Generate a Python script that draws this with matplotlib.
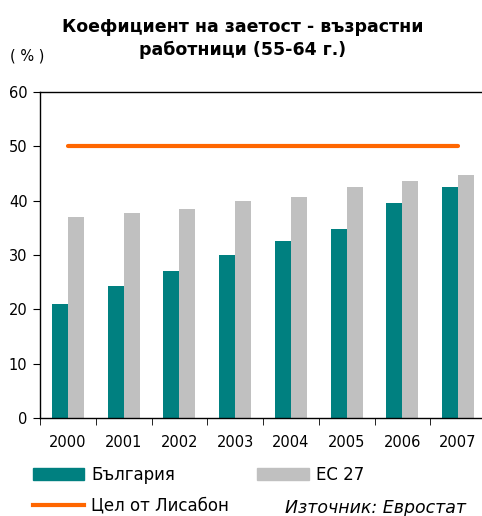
import numpy as np
import matplotlib.pyplot as plt
from matplotlib.patches import Patch
from matplotlib.lines import Line2D

plt.rcParams["font.family"] = ["DejaVu Sans"]
plt.rcParams["font.size"] = 10.5

years = ["2000", "2001", "2002", "2003", "2004", "2005", "2006", "2007"]
bulgaria = [21.0, 24.3, 27.1, 30.0, 32.6, 34.8, 39.6, 42.5]
eu27 = [37.0, 37.7, 38.5, 40.0, 40.7, 42.5, 43.6, 44.7]
lisbon = [50, 50, 50, 50, 50, 50, 50, 50]

teal = "#008080"
grey = "#C0C0C0"
orange = "#FF6600"

fig = plt.figure(figsize=(4.82, 5.16), dpi=100)
ax = fig.add_axes([40 / 482, 1 - 418 / 516, 446 / 482, 326 / 516])

x = np.arange(len(years))
w = 0.286
ax.bar(x - w / 2, bulgaria, width=w, color=teal, label="България")
ax.bar(x + w / 2, eu27, width=w, color=grey, label="ЕС 27")
ax.plot(x, lisbon, color=orange, lw=3.0, solid_capstyle="round", label="Цел от Лисабон")

ax.set_xlim(-0.5, len(years) - 0.5)
ax.set_ylim(0, 60)
ax.set_yticks(range(0, 61, 10))
ax.set_xticks(x)
ax.set_xticklabels(years)
ax.set_xticks(np.arange(-0.5, len(years) - 0.4, 1), minor=True)
ax.tick_params(axis="x", which="major", length=0, pad=12)
ax.tick_params(axis="x", which="minor", length=5, direction="out")
ax.tick_params(axis="y", length=5, direction="out", pad=4)
ax.spines["right"].set_visible(False)
for s in ["left", "bottom", "top"]:
    ax.spines[s].set_linewidth(1.0)

fig.text(0.504, 1 - 27 / 516, "Коефициент на заетост - възрастни", ha="center", va="center",
         fontsize=12.5, fontweight="bold")
fig.text(0.504, 1 - 50 / 516, "работници (55-64 г.)", ha="center", va="center",
         fontsize=12.5, fontweight="bold")
fig.text(10 / 482, 1 - 56 / 516, "( % )", ha="left", va="center", fontsize=10.5)

handles = [
    Patch(color=teal, label="България"),
    Line2D([], [], color=orange, lw=3.0, label="Цел от Лисабон"),
    Patch(color=grey, label="ЕС 27"),
]
fig.legend(handles=handles, loc="upper left", bbox_to_anchor=(26 / 482, 1 - 459 / 516),
           ncol=2, frameon=False, handlelength=3.1, handleheight=0.8,
           handletextpad=0.4, columnspacing=1.7, labelspacing=0.78, borderaxespad=0,
           prop={"size": 12})

fig.text(466 / 482, 1 - 508 / 516, "Източник: Евростат", ha="right", va="center",
         fontsize=12.5, style="italic")

fig.savefig("out.png", dpi=100)
